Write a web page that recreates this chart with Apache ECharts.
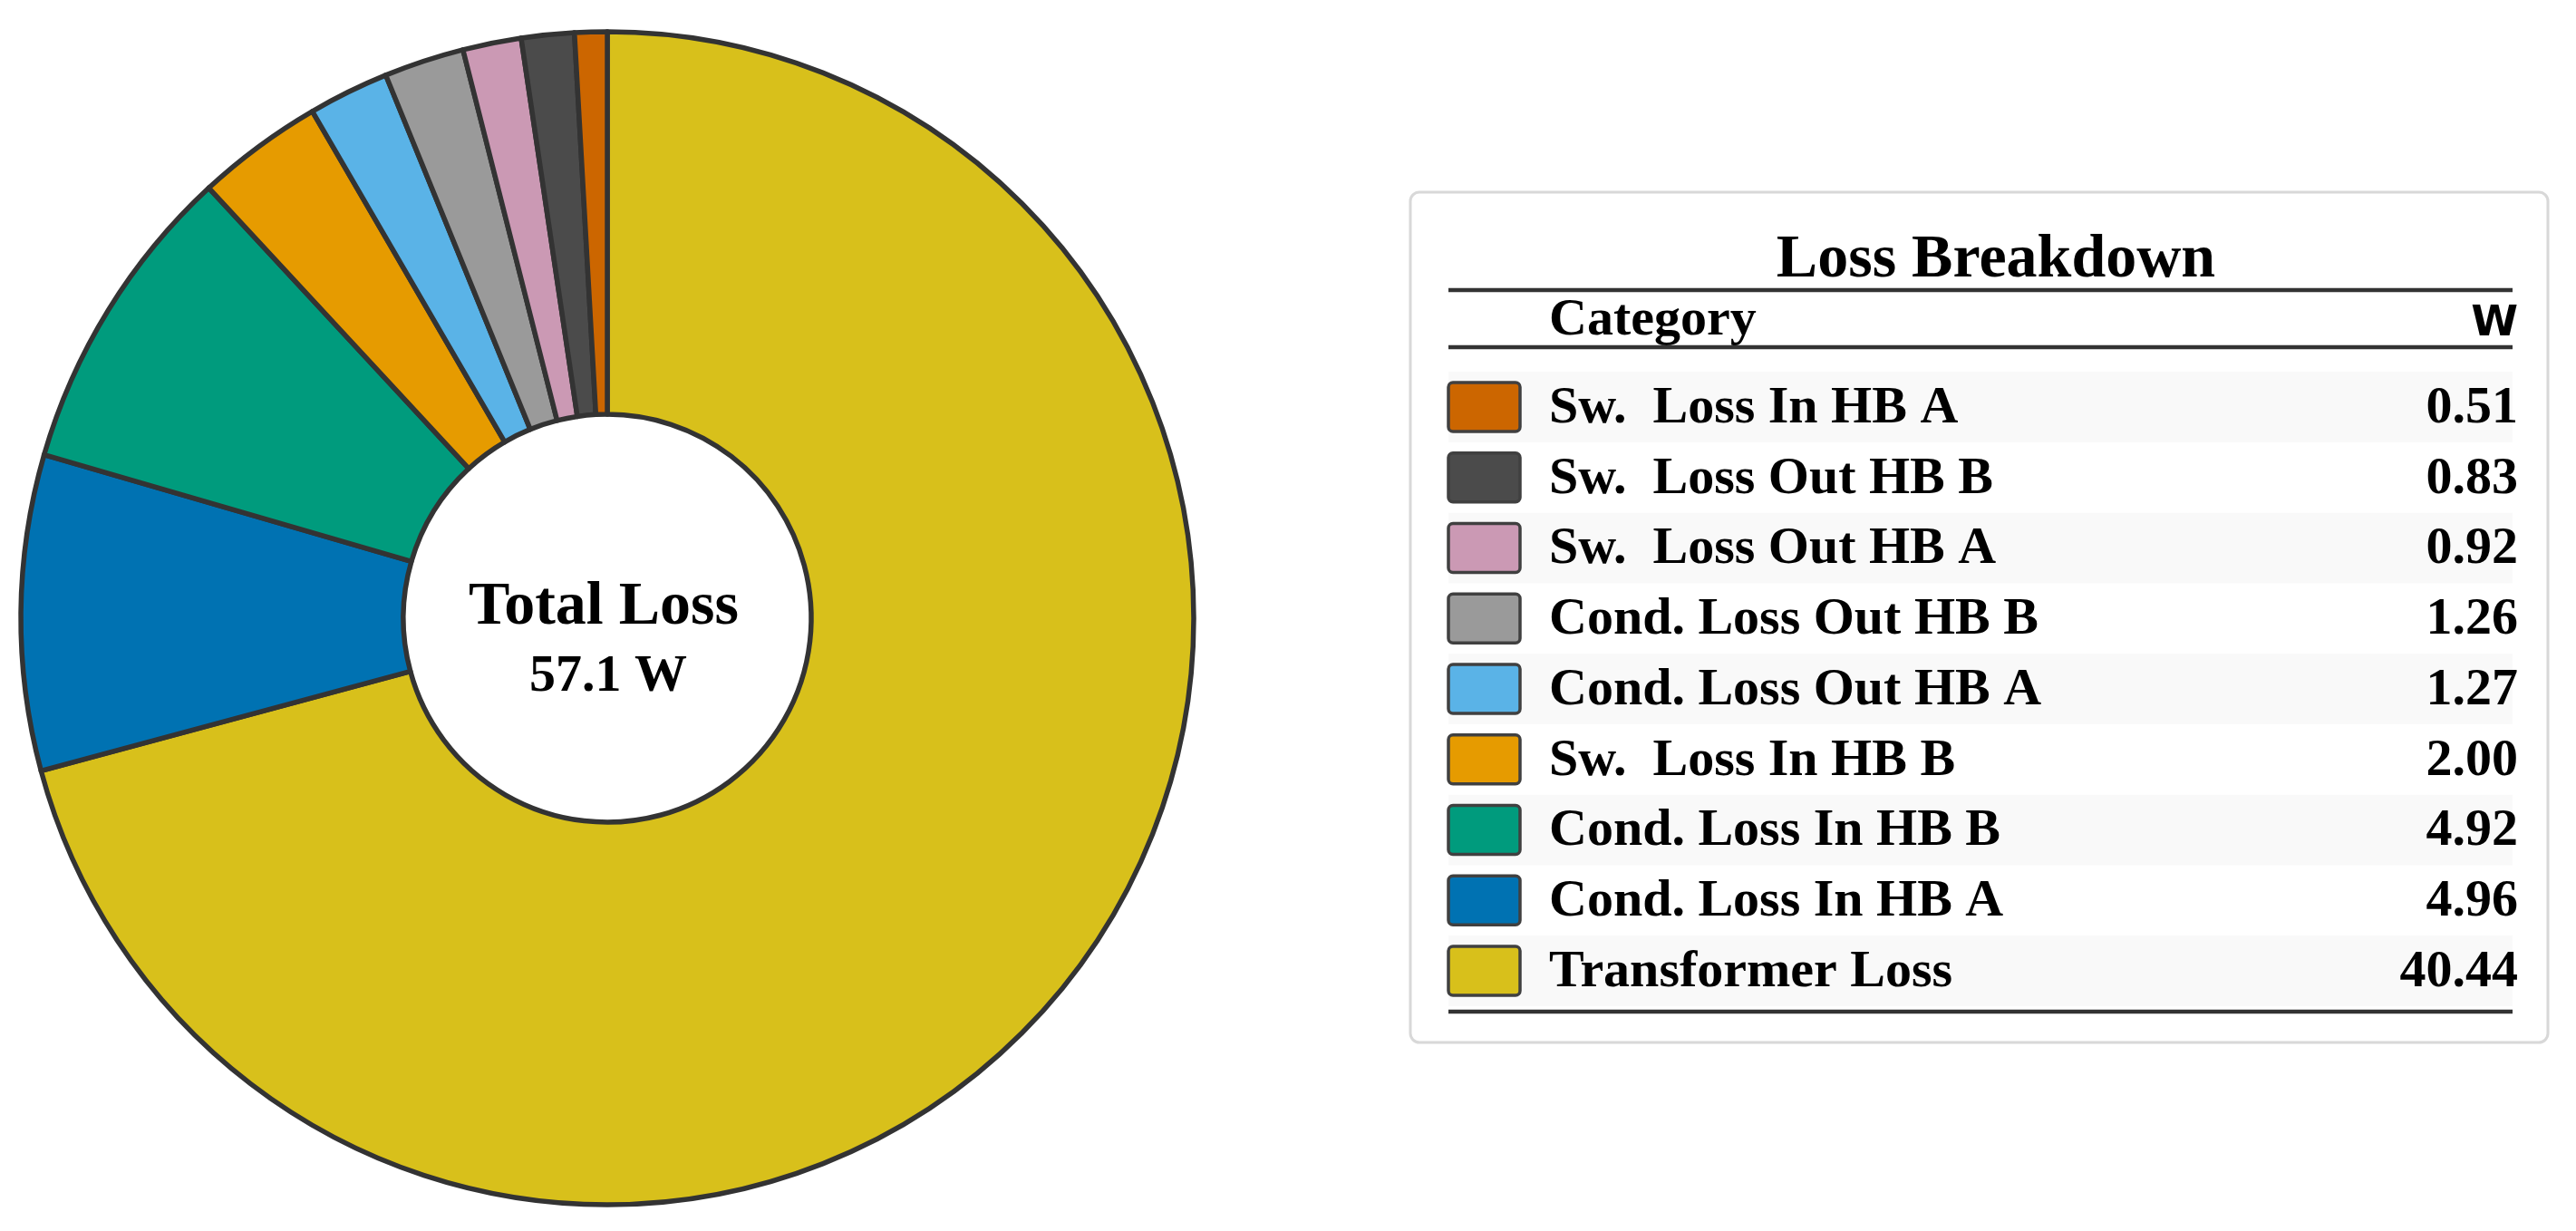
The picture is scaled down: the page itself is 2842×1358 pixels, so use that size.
<!DOCTYPE html>
<html>
<head>
<meta charset="utf-8">
<script src="https://cdn.jsdelivr.net/npm/echarts@6/dist/echarts.min.js"></script>
<style>
html,body{margin:0;padding:0;background:#fff;}
#chart{width:2842px;height:1358px;}
</style>
</head>
<body>
<div id="chart"></div>
<script>
// Pie data, clockwise from 12 o'clock
const categories = ['Transformer Loss', 'Cond. Loss In HB A', 'Cond. Loss In HB B', 'Sw.  Loss In HB B',
  'Cond. Loss Out HB A', 'Cond. Loss Out HB B', 'Sw.  Loss Out HB A', 'Sw.  Loss Out HB B', 'Sw.  Loss In HB A'];
const values = [40.44, 4.96, 4.92, 2.00, 1.27, 1.26, 0.92, 0.83, 0.51];
const colors = ['#d8c01b', '#0072b2', '#009b7d', '#e69b00', '#5ab3e7', '#9a9a9a', '#cb99b4', '#4b4b4b', '#cc6600'];
const tableTitle = 'Loss Breakdown';
const colHeaders = ['Category', 'W'];
const centerTitle = 'Total Loss';

const total = values.reduce((a, b) => a + b, 0);
const chart = echarts.init(document.getElementById('chart'));
const serif = '"Liberation Serif", "Times New Roman", serif';

const graphics = [];
// center text
graphics.push({ type: 'text', x: 666, y: 670, style: { text: centerTitle, font: 'bold 68px ' + serif, fill: '#000', align: 'center', verticalAlign: 'middle' }, z: 100 });
graphics.push({ type: 'text', x: 671, y: 747, style: { text: total.toFixed(1) + ' W', font: 'bold 58px ' + serif, fill: '#000', align: 'center', verticalAlign: 'middle' }, z: 100 });

// table box
const bx = 1556, by = 212, bw = 1255, bh = 938;
const lx0 = 1598, lx1 = 2772;
graphics.push({ type: 'rect', shape: { x: bx, y: by, width: bw, height: bh, r: 10 }, style: { fill: '#fff', stroke: '#d8d8d8', lineWidth: 3 }, z: 1 });
graphics.push({ type: 'text', x: 2202, y: 287, style: { text: tableTitle, font: 'bold 68px ' + serif, fill: '#000', align: 'center', verticalAlign: 'middle' }, z: 10 });
graphics.push({ type: 'line', shape: { x1: lx0, y1: 320, x2: lx1, y2: 320 }, style: { stroke: '#333', lineWidth: 4.5 }, z: 10 });
graphics.push({ type: 'text', x: 1709, y: 354, style: { text: colHeaders[0], font: 'bold 58px ' + serif, fill: '#000', align: 'left', verticalAlign: 'middle' }, z: 10 });
graphics.push({ type: 'text', x: 2778, y: 358, style: { text: colHeaders[1], font: 'bold 47px "DejaVu Sans", sans-serif', fill: '#000', align: 'right', verticalAlign: 'middle' }, z: 10 });
graphics.push({ type: 'line', shape: { x1: lx0, y1: 383, x2: lx1, y2: 383 }, style: { stroke: '#333', lineWidth: 4.5 }, z: 10 });

const order = categories.map((c, i) => i).reverse();
const rowH = 77.75, row0 = 449;
order.forEach((idx, r) => {
  const cy = row0 + r * rowH;
  if (r % 2 === 0) {
    graphics.push({ type: 'rect', shape: { x: lx0, y: cy - rowH / 2, width: lx1 - lx0, height: rowH }, style: { fill: '#f9f9f9' }, z: 2 });
  }
  graphics.push({ type: 'rect', shape: { x: 1598, y: cy - 27, width: 79, height: 54, r: 5 }, style: { fill: colors[idx], stroke: '#404040', lineWidth: 3.5 }, z: 10 });
  graphics.push({ type: 'text', x: 1709, y: cy + 2, style: { text: categories[idx], font: 'bold 58px ' + serif, fill: '#000', align: 'left', verticalAlign: 'middle' }, z: 10 });
  graphics.push({ type: 'text', x: 2778, y: cy + 2, style: { text: values[idx].toFixed(2), font: 'bold 58px ' + serif, fill: '#000', align: 'right', verticalAlign: 'middle' }, z: 10 });
});
graphics.push({ type: 'line', shape: { x1: lx0, y1: 1116, x2: lx1, y2: 1116 }, style: { stroke: '#333', lineWidth: 4.5 }, z: 10 });

chart.setOption({
  backgroundColor: '#fff',
  animation: false,
  series: [{
    type: 'pie',
    center: [670, 682],
    radius: [225, 647],
    startAngle: 90,
    clockwise: true,
    avoidLabelOverlap: false,
    label: { show: false },
    labelLine: { show: false },
    emphasis: { disabled: true },
    itemStyle: { borderColor: '#333', borderWidth: 5.5 },
    data: categories.map((c, i) => ({ name: c, value: values[i], itemStyle: { color: colors[i] } }))
  }],
  graphic: graphics
});
</script>
</body>
</html>
